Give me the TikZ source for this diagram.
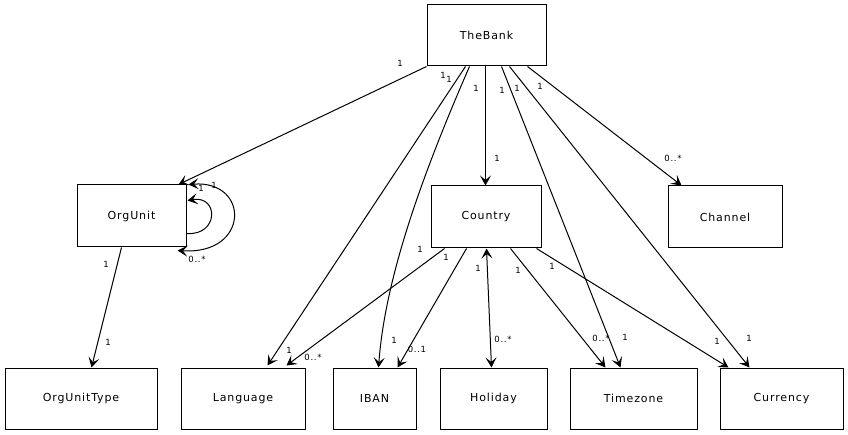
\documentclass[tikz,border=0pt]{standalone}
\usepackage{fontspec}
\setmainfont{DejaVu Sans}[LetterSpace=8]
\usetikzlibrary{arrows.meta}
\begin{document}
\begin{tikzpicture}[x=1pt,y=-1pt,
  cls/.style={draw,line width=1pt,inner sep=0pt,font=\fontsize{11}{13}\selectfont},
  arr/.style={line width=1pt,-{Stealth[length=10pt,width=11pt,inset=4.5pt]}},
  arrboth/.style={line width=1pt,{Stealth[length=10pt,width=11pt,inset=4.5pt]}-{Stealth[length=10pt,width=11pt,inset=4.5pt]}},
  lbl/.style={inner sep=0pt,font=\fontsize{8.5}{10}\selectfont}]
\useasboundingbox (0,0) rectangle (848,435);
\fill[white] (0,0) rectangle (848,435);
% classes
\node[cls,minimum width=119pt,minimum height=61pt] (bank) at (486.5,35.5) {TheBank};
\node[cls,minimum width=109pt,minimum height=62pt] (org) at (131.5,216) {OrgUnit};
\node[cls,minimum width=110pt,minimum height=62pt] (country) at (486,217) {Country};
\node[cls,minimum width=114pt,minimum height=62pt] (channel) at (725,217) {Channel};
\node[cls,minimum width=152pt,minimum height=61pt] (out) at (81,398.5) {OrgUnitType};
\node[cls,minimum width=124pt,minimum height=61pt] (lang) at (243,398.5) {Language};
\node[cls,minimum width=83pt,minimum height=61pt] (iban) at (374.5,398.5) {IBAN};
\node[cls,minimum width=107pt,minimum height=61pt] (hol) at (493.5,398.5) {Holiday};
\node[cls,minimum width=127pt,minimum height=61pt] (tz) at (633.5,398.5) {Timezone};
\node[cls,minimum width=123pt,minimum height=61pt] (cur) at (781.5,398.5) {Currency};
% TheBank edges
\draw[arr] (bank.south west) -- ([xshift=-8pt]org.north east);
\draw[arr] ([xshift=39pt]bank.south west) -- ([xshift=87pt,yshift=2pt]lang.north west);
\draw[arr] ([xshift=43pt]bank.south west) .. controls (420,180) and (385,280) .. ([xshift=46pt]iban.north west);
\draw[arr] ([xshift=59pt]bank.south west) -- ([xshift=55pt]country.north west);
\draw[arr] ([xshift=75pt]bank.south west) -- ([xshift=51pt]tz.north west);
\draw[arr] ([xshift=83pt]bank.south west) -- ([xshift=30pt]cur.north west);
\draw[arr] ([xshift=101pt]bank.south west) -- ([xshift=14pt]channel.north west);
% OrgUnit self loops
\draw[arrboth] ([xshift=2pt]org.north east) .. controls (250,180) and (250,255) .. ([xshift=-9pt,yshift=-3pt]org.south east);
\draw[arr] ([yshift=14pt]org.south east) .. controls (219,236) and (219,195) .. ([xshift=1pt,yshift=-16pt]org.north east);
\draw[arr] ([xshift=45pt]org.south west) -- ([xshift=87pt]out.north west);
% Country edges
\draw[arr] ([xshift=14pt]country.south west) -- ([xshift=106pt,yshift=2pt]lang.north west);
\draw[arr] ([xshift=36pt]country.south west) -- ([xshift=65pt]iban.north west);
\draw[arrboth] ([xshift=56pt]country.south west) -- ([xshift=52pt]hol.north west);
\draw[arr] ([xshift=80pt]country.south west) -- ([xshift=36pt]tz.north west);
\draw[arr] ([xshift=106pt]country.south west) -- ([xshift=9pt]cur.north west);
% labels
\node[lbl] (l1) at (400,63) {1};
\node[lbl] (l2) at (443,75) {1};
\node[lbl] (l3) at (449,79) {1};
\node[lbl] (l4) at (476,88) {1};
\node[lbl] (l5) at (502,90) {1};
\node[lbl] (l6) at (517,88) {1};
\node[lbl] (l7) at (540,86) {1};
\node[lbl] (l8) at (497,158) {1};
\node[lbl] (l9) at (673,158) {0..*};
\node[lbl] (l10) at (201,188) {1};
\node[lbl] (l11) at (214,185) {1};
\node[lbl] (l12) at (197,259) {0..*};
\node[lbl] (l13) at (106,264) {1};
\node[lbl] (l14) at (108,342) {1};
\node[lbl] (l15) at (420,249) {1};
\node[lbl] (l16) at (446,257) {1};
\node[lbl] (l17) at (478,268) {1};
\node[lbl] (l18) at (518,270) {1};
\node[lbl] (l19) at (552,266) {1};
\node[lbl] (l20) at (289,350) {1};
\node[lbl] (l21) at (313,357) {0..*};
\node[lbl] (l22) at (394,340) {1};
\node[lbl] (l23) at (417,349) {0..1};
\node[lbl] (l24) at (503,339) {0..*};
\node[lbl] (l25) at (601,338) {0..*};
\node[lbl] (l26) at (625,337) {1};
\node[lbl] (l27) at (717,341) {1};
\node[lbl] (l28) at (749,338) {1};
\end{tikzpicture}
\end{document}
